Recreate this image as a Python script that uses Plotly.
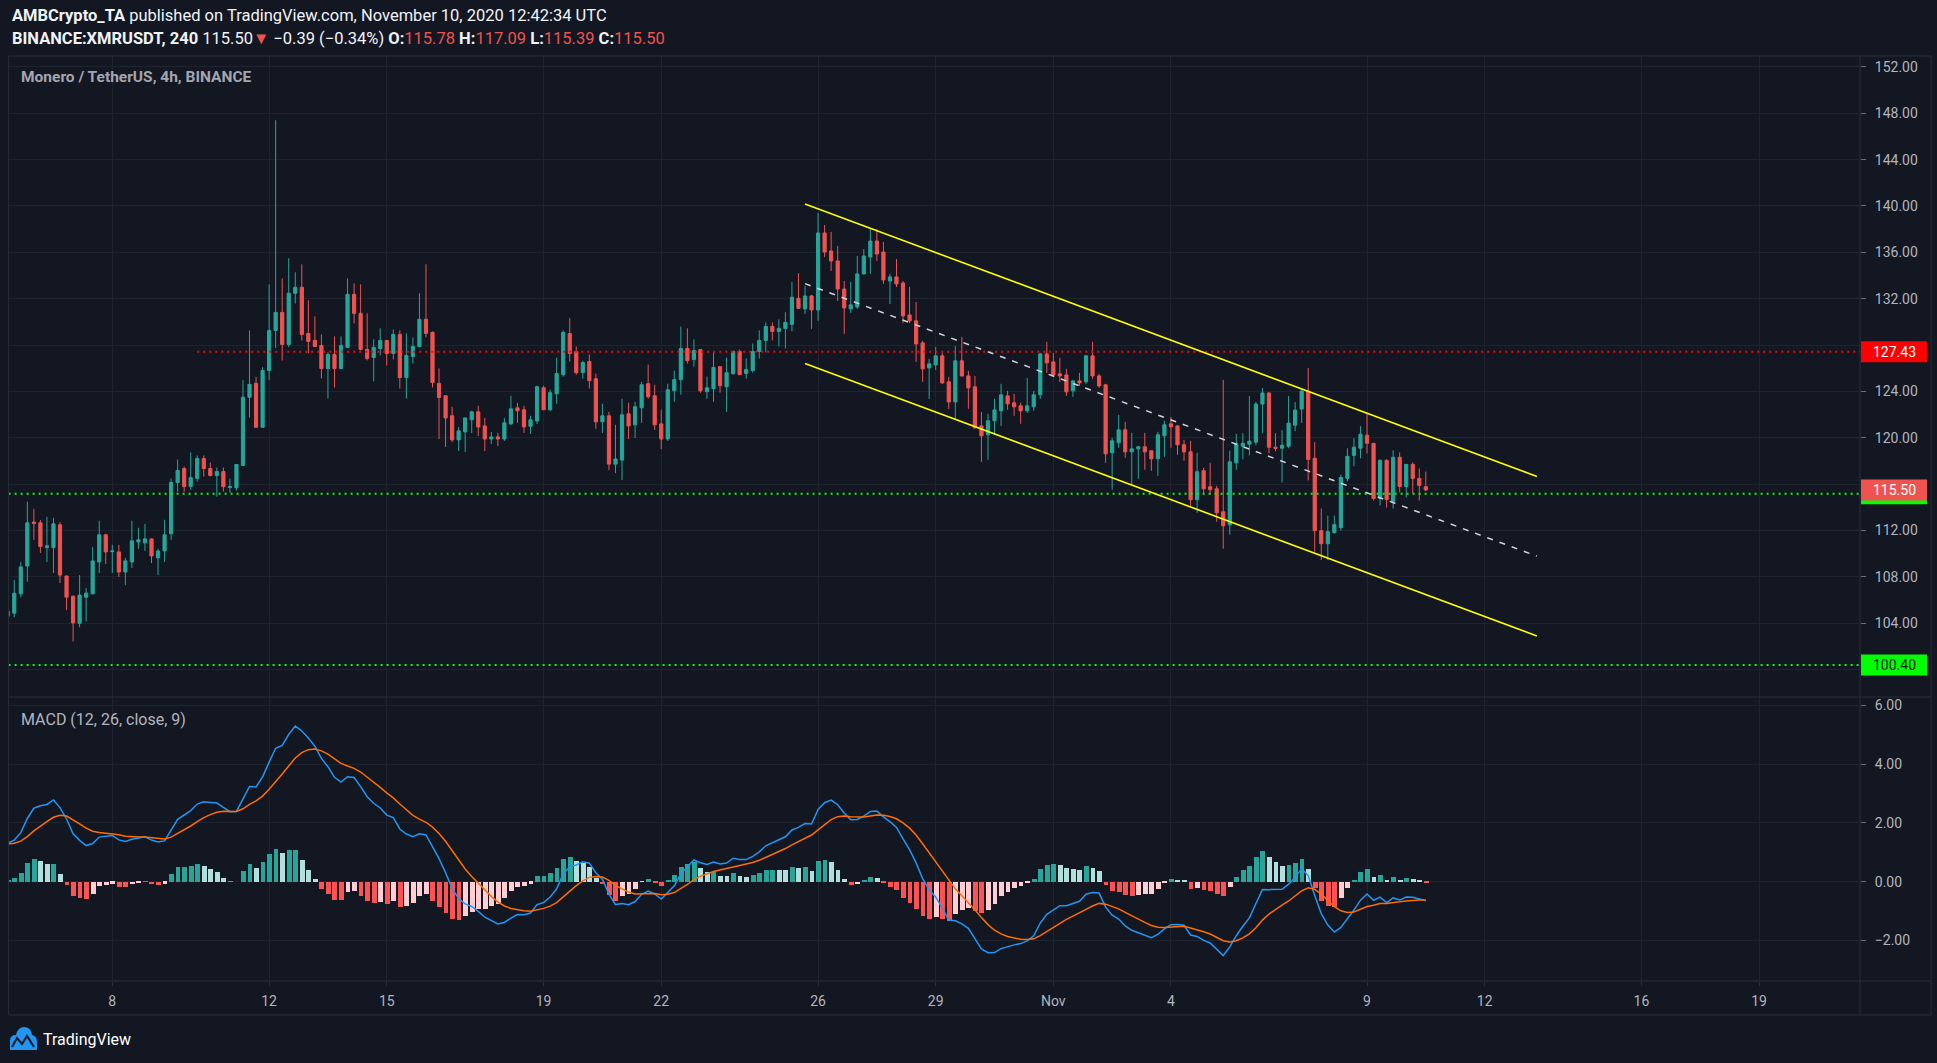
import numpy as np
import pandas as pd
import plotly.graph_objects as go

W, H = 1937, 1063
BG = "#131722"
GRID = "#1f232e"
FRAME = "#2a2e39"
TEXT = "#b2b5be"
UP = "#26a69a"
DOWN = "#ef5350"
FONT = "Roboto"

# ---------------- data (4h candles, BINANCE:XMRUSDT) ----------------
first_bar = "2020-10-05 08:00"

opens = [104.61, 104.87, 106.54, 108.94, 112.73, 112.67, 110.53, 110.53, 112.50, 108.08,
         106.34, 104.00, 106.25, 106.54, 109.29, 111.63, 110.18, 110.16, 108.42, 109.29,
         111.02, 110.94, 111.28, 109.64, 110.24, 111.72, 116.14, 117.35, 115.79, 116.49,
         118.22, 117.35, 116.75, 117.09, 115.71, 115.71, 117.61, 123.50, 124.70, 120.91,
         125.81, 129.26, 130.82, 128.06, 132.47, 132.99, 129.00, 128.40, 127.97, 125.98,
         127.19, 125.98, 127.80, 132.38, 130.74, 127.63, 126.93, 127.71, 128.40, 127.28,
         128.92, 125.20, 127.02, 127.88, 130.22, 129.10, 124.69, 123.63, 121.90, 119.82,
         120.51, 121.55, 122.24, 121.03, 119.90, 120.08, 119.90, 121.20, 122.59, 122.42,
         120.99, 121.46, 124.32, 122.42, 123.80, 125.45, 129.00, 127.45, 125.62, 126.58,
         125.10, 121.38, 121.90, 117.73, 118.08, 122.07, 121.12, 122.59, 124.67, 123.63,
         121.20, 119.90, 124.06, 125.02, 127.71, 126.75, 127.62, 123.98, 124.24, 126.14,
         124.41, 125.54, 127.45, 125.54, 125.80, 127.45, 128.40, 129.61, 129.18, 129.44,
         129.79, 132.04, 131.12, 132.24, 131.03, 137.67, 136.12, 135.26, 132.84, 131.12,
         131.29, 134.14, 135.60, 136.98, 136.03, 133.53, 133.88, 133.36, 130.60, 130.09,
         128.19, 126.03, 126.29, 127.07, 124.83, 123.10, 126.64, 125.34, 124.40, 121.03,
         120.26, 121.47, 122.33, 123.62, 123.02, 122.76, 122.33, 122.67, 123.71, 127.24,
         126.55, 125.52, 125.43, 124.05, 124.91, 124.83, 127.07, 125.34, 124.57, 118.71,
         119.57, 120.69, 118.79, 119.05, 119.22, 118.88, 118.19, 120.17, 121.21, 121.03,
         119.40, 118.79, 114.66, 117.16, 115.78, 115.60, 113.62, 112.50, 117.84, 119.27,
         119.45, 119.62, 122.91, 123.87, 119.19, 119.10, 119.27, 121.09, 122.48, 124.04,
         118.23, 111.99, 110.86, 111.82, 112.25, 116.50, 118.49, 119.10, 120.23, 119.53,
         114.76, 118.06, 114.50, 118.32, 115.80, 117.71, 116.50, 115.78]
highs = [105.10, 107.73, 109.29, 114.49, 113.88, 112.90, 113.19, 113.10, 112.73, 108.10,
         106.40, 108.16, 107.03, 110.59, 112.84, 111.72, 110.76, 110.76, 109.64, 112.84,
         112.24, 112.58, 111.30, 110.42, 112.93, 116.49, 118.13, 117.53, 118.74, 118.48,
         118.48, 117.87, 117.44, 117.44, 116.49, 117.70, 124.98, 129.26, 125.26, 126.09,
         133.24, 147.40, 133.76, 135.49, 134.28, 134.97, 131.86, 130.48, 128.92, 127.37,
         128.75, 128.75, 133.76, 133.33, 133.24, 130.74, 128.49, 129.44, 128.40, 129.35,
         129.27, 129.01, 128.66, 132.47, 134.97, 129.18, 125.98, 123.65, 122.68, 120.94,
         121.72, 122.33, 122.76, 121.72, 120.51, 120.42, 121.72, 123.63, 123.02, 122.76,
         121.90, 124.50, 124.50, 124.15, 126.92, 129.27, 130.31, 127.88, 126.66, 127.18,
         125.54, 122.94, 122.24, 121.12, 123.37, 123.02, 123.11, 124.84, 126.32, 124.58,
         122.42, 124.67, 125.80, 129.61, 129.44, 128.49, 127.62, 125.28, 127.36, 126.14,
         126.92, 127.53, 127.62, 126.84, 128.14, 129.27, 129.96, 129.96, 130.22, 130.83,
         133.43, 134.21, 133.10, 132.33, 139.40, 138.36, 137.76, 136.55, 133.53, 133.45,
         135.69, 136.29, 138.02, 138.02, 136.90, 134.14, 135.43, 133.53, 133.02, 131.72,
         128.36, 126.81, 127.84, 127.33, 125.26, 127.93, 128.71, 125.78, 125.34, 122.24,
         122.07, 123.36, 124.66, 124.05, 123.79, 123.02, 125.17, 124.05, 127.33, 128.28,
         127.33, 126.90, 125.95, 125.00, 125.60, 127.16, 128.28, 125.52, 124.66, 120.00,
         121.98, 121.38, 120.43, 119.30, 120.43, 118.90, 120.52, 121.47, 121.81, 121.05,
         119.83, 119.74, 118.71, 117.41, 117.84, 115.86, 125.00, 118.88, 120.34, 120.40,
         123.61, 123.09, 124.30, 123.90, 120.40, 120.66, 123.61, 123.09, 124.21, 126.03,
         119.62, 113.90, 113.29, 113.29, 116.84, 119.10, 119.97, 121.01, 122.13, 119.53,
         118.14, 118.14, 118.92, 118.75, 117.71, 117.88, 117.36, 117.09]
lows = [104.50, 104.52, 106.25, 107.58, 111.20, 110.07, 109.29, 108.34, 107.47, 105.13,
        102.44, 103.65, 104.17, 106.50, 108.34, 109.12, 108.34, 107.99, 107.29, 108.77,
        110.42, 110.24, 109.20, 108.16, 109.29, 111.20, 115.36, 115.36, 115.53, 116.23,
        116.66, 116.66, 114.92, 115.36, 115.27, 115.45, 117.58, 121.74, 120.90, 120.90,
        124.98, 127.75, 126.67, 127.83, 131.60, 128.40, 127.31, 127.83, 125.12, 123.39,
        124.34, 125.98, 127.80, 129.87, 127.54, 126.67, 124.86, 127.11, 126.24, 126.76,
        124.25, 123.39, 126.41, 127.80, 128.66, 124.34, 119.90, 119.21, 119.64, 118.86,
        118.77, 120.42, 120.16, 118.86, 119.47, 119.29, 119.73, 121.10, 121.29, 120.42,
        120.34, 121.20, 122.40, 122.33, 122.94, 125.28, 126.58, 125.45, 125.10, 124.24,
        120.77, 120.42, 117.21, 116.95, 116.35, 119.90, 119.99, 121.29, 123.37, 120.68,
        119.03, 119.73, 123.11, 123.72, 126.40, 126.14, 123.89, 123.37, 123.11, 123.89,
        122.24, 125.45, 125.40, 125.10, 125.62, 126.84, 127.36, 128.40, 127.88, 127.71,
        129.18, 131.10, 130.69, 129.40, 130.09, 135.60, 134.40, 131.81, 128.97, 130.78,
        131.12, 134.10, 134.14, 135.26, 133.28, 131.55, 133.02, 129.91, 129.91, 126.55,
        124.83, 123.36, 125.86, 124.66, 122.50, 121.64, 125.26, 122.50, 120.80, 117.93,
        118.10, 120.26, 121.03, 122.41, 121.90, 121.21, 122.16, 122.33, 123.36, 125.60,
        125.34, 124.83, 123.62, 123.53, 124.48, 124.66, 125.09, 124.31, 117.84, 115.52,
        119.14, 118.28, 115.86, 116.47, 117.24, 117.16, 116.72, 118.36, 119.14, 118.53,
        118.02, 114.14, 113.53, 115.09, 115.09, 112.76, 110.43, 111.64, 117.24, 118.14,
        118.49, 119.36, 120.40, 118.66, 118.84, 116.15, 119.10, 120.57, 121.27, 116.32,
        110.17, 109.47, 109.47, 111.73, 111.99, 116.24, 117.54, 118.23, 118.66, 114.59,
        114.16, 113.98, 113.90, 115.28, 114.85, 115.20, 114.59, 115.39]
closes = [105.04, 106.60, 108.86, 112.67, 112.61, 110.62, 110.68, 112.58, 108.16, 106.25,
          104.03, 106.43, 106.60, 109.38, 111.63, 110.16, 110.24, 108.42, 109.38, 111.11,
          111.20, 111.28, 109.81, 110.24, 111.63, 116.14, 117.18, 115.79, 116.57, 118.22,
          117.35, 116.75, 117.09, 115.79, 115.79, 117.70, 123.50, 124.61, 120.91, 125.81,
          129.26, 130.82, 128.06, 132.47, 132.99, 128.92, 128.32, 127.88, 125.98, 127.19,
          125.98, 127.97, 132.38, 130.74, 127.63, 126.85, 127.80, 128.40, 127.28, 128.92,
          125.20, 127.11, 127.88, 130.22, 129.01, 124.77, 123.48, 121.72, 119.82, 120.60,
          121.72, 122.24, 120.94, 119.90, 120.08, 119.90, 121.29, 122.50, 122.33, 120.94,
          121.55, 124.41, 122.42, 123.89, 125.54, 129.09, 127.27, 125.62, 126.49, 124.93,
          121.38, 121.90, 117.73, 118.17, 121.98, 121.03, 122.68, 124.58, 123.54, 121.12,
          119.90, 124.15, 125.02, 127.71, 126.66, 127.53, 124.06, 124.32, 126.06, 124.50,
          125.62, 127.45, 125.45, 125.88, 127.45, 128.40, 129.61, 129.18, 129.44, 129.96,
          132.13, 131.17, 132.24, 131.03, 137.67, 136.03, 135.26, 132.84, 131.21, 131.47,
          134.14, 135.69, 136.98, 135.86, 133.62, 133.88, 133.28, 130.52, 130.09, 128.10,
          125.95, 126.38, 127.07, 124.74, 123.10, 126.64, 125.34, 124.31, 120.86, 120.17,
          121.47, 122.41, 123.71, 122.93, 122.67, 122.33, 122.76, 123.71, 127.24, 126.47,
          125.43, 125.34, 123.97, 124.91, 124.74, 127.07, 125.34, 124.48, 118.62, 119.74,
          120.69, 118.79, 119.05, 119.22, 118.79, 118.19, 120.26, 121.12, 120.95, 119.40,
          118.79, 114.66, 117.07, 115.60, 115.52, 113.53, 112.41, 117.93, 119.48, 119.53,
          119.71, 122.91, 123.87, 119.19, 119.10, 119.36, 121.27, 122.39, 124.04, 118.14,
          111.99, 110.86, 111.90, 112.51, 116.58, 118.40, 119.19, 120.31, 119.53, 114.76,
          118.06, 114.68, 118.32, 115.80, 117.71, 116.50, 115.89, 115.50]

# MACD (12, 26, close, 9) -- EMA state before the first visible bar
macd_fast, macd_slow, macd_sig = 12, 26, 9
ema_fast_start = 103.80
ema_slow_start = 102.50
signal_start = 1.27

# drawings
channel_x = ["2020-10-25 16:00", "2020-11-13 08:00"]
channel_upper = [140.18, 116.67]
channel_lower = [126.42, 102.91]
channel_mid = [133.30, 109.79]
resistance_level = 127.43
resistance_from = "2020-10-10 04:00"
support_level = 115.18
support2_level = 100.40

# axes
x_range = ["2020-10-05 08:32", "2020-11-21 13:45"]
date_ticks = ["2020-10-08", "2020-10-12", "2020-10-15", "2020-10-19", "2020-10-22",
              "2020-10-26", "2020-10-29", "2020-11-01", "2020-11-04", "2020-11-09",
              "2020-11-12", "2020-11-16", "2020-11-19"]
date_labels = ["8", "12", "15", "19", "22", "26", "29", "Nov", "4", "9", "12", "16", "19"]
price_ticks = [100, 104, 108, 112, 116, 120, 124, 128, 132, 136, 140, 144, 148, 152]
# 100, 116 and 128 sit behind the coloured price labels, so their text is hidden
price_labels = ["", "104.00", "108.00", "112.00", "", "120.00", "124.00",
                "", "132.00", "136.00", "140.00", "144.00", "148.00", "152.00"]
price_range = [97.64, 152.94]
macd_ticks = [-2, 0, 2, 4, 6]
macd_labels = ["\u22122.00", "0.00", "2.00", "4.00", "6.00"]
macd_range = [-3.38, 6.28]

# ---------------- derived ----------------
times = pd.date_range(first_bar, periods=len(closes), freq="4h")
cl = np.array(closes)


def ema(values, n, seed):
    k = 2.0 / (n + 1)
    out, e = [], seed
    for v in values:
        e = e + k * (v - e)
        out.append(e)
    return np.array(out)


macd_line = ema(cl, macd_fast, ema_fast_start) - ema(cl, macd_slow, ema_slow_start)
signal_line = ema(macd_line, macd_sig, signal_start)
hist = macd_line - signal_line
hist_colors = []
prev = hist[0]
for h in hist:
    if h >= 0:
        hist_colors.append("#26a69a" if h >= prev else "#b2dfdb")
    else:
        hist_colors.append("#ffcdd2" if h >= prev else "#ff5252")
    prev = h

# ---------------- geometry ----------------
X0, X1 = 8.6, 1860          # plot area left / price axis line
Y_TOP, Y_SEP, Y_BOT, Y_AX = 56, 697, 981, 1015


def px(x):
    return x / W


def py(y):
    return 1 - y / H


fig = go.Figure()

# horizontal levels (below candles)
fig.add_trace(go.Scatter(x=x_range, y=[support2_level] * 2, mode="lines",
                         line=dict(color="#00ff00", width=2, dash="2px,4px"),
                         xaxis="x", yaxis="y", hoverinfo="skip"))
fig.add_trace(go.Scatter(x=x_range, y=[support_level] * 2, mode="lines",
                         line=dict(color="#00ff00", width=2, dash="2px,4px"),
                         xaxis="x", yaxis="y", hoverinfo="skip"))
fig.add_trace(go.Scatter(x=[resistance_from, x_range[1]], y=[resistance_level] * 2, mode="lines",
                         line=dict(color="#ff0000", width=2, dash="2px,4px"),
                         xaxis="x", yaxis="y", hoverinfo="skip"))

fig.add_trace(go.Candlestick(
    x=times, open=opens, high=highs, low=lows, close=closes,
    increasing=dict(line=dict(color=UP, width=1), fillcolor=UP),
    decreasing=dict(line=dict(color=DOWN, width=1), fillcolor=DOWN),
    whiskerwidth=0, xaxis="x", yaxis="y", hoverinfo="skip"))

# channel drawing
fig.add_trace(go.Scatter(x=channel_x, y=channel_upper, mode="lines",
                         line=dict(color="#ffff00", width=1.6), xaxis="x", yaxis="y"))
fig.add_trace(go.Scatter(x=channel_x, y=channel_lower, mode="lines",
                         line=dict(color="#ffff00", width=1.6), xaxis="x", yaxis="y"))
fig.add_trace(go.Scatter(x=channel_x, y=channel_mid, mode="lines",
                         line=dict(color="#d1d4dc", width=1.5, dash="6px,7px"),
                         xaxis="x", yaxis="y"))

# MACD pane
bar_w = 4 * 3600 * 1000 * 0.74
fig.add_trace(go.Bar(x=times, y=hist, marker=dict(color=hist_colors, line=dict(width=0)),
                     width=bar_w, xaxis="x2", yaxis="y2"))
fig.add_trace(go.Scatter(x=times, y=macd_line, mode="lines",
                         line=dict(color="#2196f3", width=1.5), xaxis="x2", yaxis="y2"))
fig.add_trace(go.Scatter(x=times, y=signal_line, mode="lines",
                         line=dict(color="#ff6d00", width=1.5), xaxis="x2", yaxis="y2"))

axis_font = dict(family=FONT, size=14, color=TEXT)
common_x = dict(type="date", range=x_range, domain=[px(X0), px(X1)],
                tickvals=date_ticks, showgrid=True, gridcolor=GRID, gridwidth=1,
                zeroline=False, showline=False, fixedrange=True)

fig.update_layout(
    width=W, height=H, margin=dict(l=0, r=0, t=0, b=0),
    paper_bgcolor=BG, plot_bgcolor=BG, showlegend=False,
    font=dict(family=FONT, color=TEXT),
    bargap=0,
    xaxis=dict(**common_x, anchor="y", showticklabels=False, ticks="",
               rangeslider=dict(visible=False)),
    xaxis2=dict(**common_x, anchor="y2", ticktext=date_labels, showticklabels=True,
                ticks="outside", ticklen=4, tickcolor=FRAME, tickfont=axis_font,
                ticklabelstandoff=3),
    yaxis=dict(domain=[py(Y_SEP), py(Y_TOP)], range=price_range, side="right",
               anchor="x", tickvals=price_ticks, ticktext=price_labels,
               showgrid=True, gridcolor=GRID, zeroline=False, showline=False,
               ticks="outside", ticklen=5, tickcolor="#6a6d78", tickfont=axis_font,
               ticklabelstandoff=6, fixedrange=True),
    yaxis2=dict(domain=[py(Y_BOT), py(Y_SEP)], range=macd_range, side="right",
                anchor="x2", tickvals=macd_ticks, ticktext=macd_labels,
                showgrid=True, gridcolor=GRID, zeroline=False, showline=False,
                ticks="outside", ticklen=5, tickcolor="#6a6d78", tickfont=axis_font,
                ticklabelstandoff=6, fixedrange=True),
)

shapes = []
# frame lines
for (xa, ya, xb, yb) in [(X0, Y_TOP, 1931, Y_TOP), (X0, Y_SEP, 1931, Y_SEP),
                         (X0, Y_BOT, 1931, Y_BOT), (X0, Y_AX, 1931, Y_AX),
                         (X0, Y_TOP, X0, Y_AX), (X1, Y_TOP, X1, Y_AX), (1931, Y_TOP, 1931, Y_AX)]:
    shapes.append(dict(type="line", xref="paper", yref="paper",
                       x0=px(xa), y0=py(ya), x1=px(xb), y1=py(yb),
                       line=dict(color=FRAME, width=1), layer="above"))

# price labels on the axis
level_values = [support_level, closes[-1], resistance_level, support2_level]
level_texts = [f"{support_level:.2f}", f"{closes[-1]:.2f}", f"{resistance_level:.2f}", f"{support2_level:.2f}"]
level_bg = ["#00ff00", "#ef5350", "#ff0000", "#00ff00"]
level_fg = ["#131722", "#ffffff", "#ffffff", "#131722"]
annotations = []
for i, (v, t, bg, fg) in enumerate(zip(level_values, level_texts, level_bg, level_fg)):
    shapes.append(dict(type="rect", xref="paper", yref="y", ysizemode="pixel", yanchor=v,
                       x0=px(1861), x1=px(1927), y0=-10.5, y1=10.5,
                       fillcolor=bg, line=dict(width=0), layer="above"))
    if i > 0:
        annotations.append(dict(xref="paper", yref="y", x=px(1894), y=v, text=t,
                                showarrow=False, xanchor="center", yanchor="middle",
                                font=dict(family=FONT, size=14, color=fg)))

# TradingView logo


def pix_path(spec):
    toks = spec.split()
    out, i = [], 0
    while i < len(toks):
        t = toks[i]
        if t.isalpha():
            out.append(t)
            i += 1
        else:
            out.append(f"{px(float(toks[i])):.5f},{py(float(toks[i + 1])):.5f}")
            i += 2
    return " ".join(out)


shapes.append(dict(type="path", xref="paper", yref="paper",
                   path=pix_path("M 10 1050 L 10 1041 Q 10 1035 16 1035 Q 18 1027 24 1027 "
                                 "Q 31 1027 32 1035 Q 37 1036 37 1042 L 37 1050 Z"),
                   fillcolor="#2196f3", line=dict(width=0)))
shapes.append(dict(type="path", xref="paper", yref="paper",
                   path=pix_path("M 12 1047 L 17 1038 L 22 1044 L 27 1036 L 34 1047"),
                   line=dict(color=BG, width=2)))

up = "#ef5350"
annotations += [
    dict(xref="paper", yref="paper", x=px(10), y=py(16), xanchor="left", yanchor="middle",
         showarrow=False, font=dict(family=FONT, size=16.5, color="#f0f3fa"),
         text="<b>AMBCrypto_TA</b> published on TradingView.com, November 10, 2020 12:42:34 UTC"),
    dict(xref="paper", yref="paper", x=px(10), y=py(38.5), xanchor="left", yanchor="middle",
         showarrow=False, font=dict(family=FONT, size=16.5, color="#f0f3fa"),
         text=(f"<b>BINANCE:XMRUSDT, 240</b> {closes[-1]:.2f}<span style='color:{up}'>\u25bc</span>"
               f" \u22120.39 (\u22120.34%) "
               f"<b>O:</b><span style='color:{up}'>{opens[-1]:.2f}</span> "
               f"<b>H:</b><span style='color:{up}'>{highs[-1]:.2f}</span> "
               f"<b>L:</b><span style='color:{up}'>{lows[-1]:.2f}</span> "
               f"<b>C:</b><span style='color:{up}'>{closes[-1]:.2f}</span>")),
    dict(xref="paper", yref="paper", x=px(19), y=py(76.5), xanchor="left", yanchor="middle",
         showarrow=False, font=dict(family=FONT, size=15.5, color="#a3a6af"),
         text="<b>Monero / TetherUS, 4h, BINANCE</b>"),
    dict(xref="paper", yref="paper", x=px(19), y=py(719), xanchor="left", yanchor="middle",
         showarrow=False, font=dict(family=FONT, size=16, color=TEXT),
         text="MACD (12, 26, close, 9)"),
    dict(xref="paper", yref="paper", x=px(41), y=py(1039), xanchor="left", yanchor="middle",
         showarrow=False, font=dict(family=FONT, size=16, color="#ffffff"),
         text="TradingView"),
]

fig.update_layout(shapes=shapes, annotations=annotations)
fig.write_html("out.html")
